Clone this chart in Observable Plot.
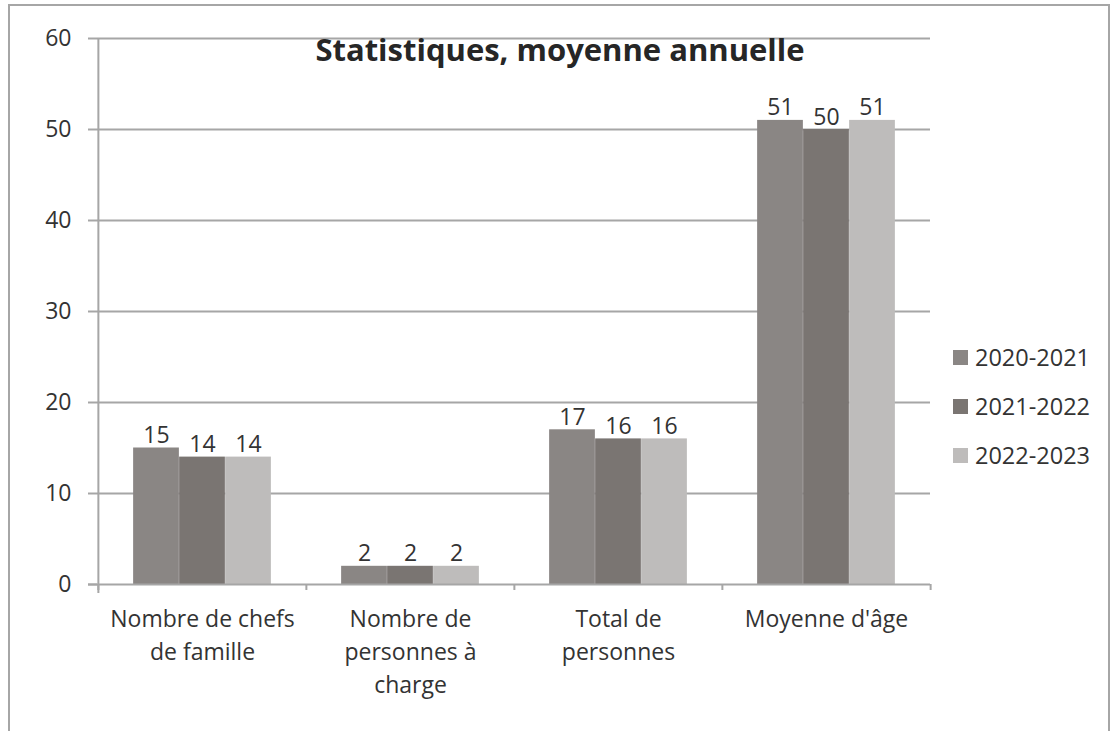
<!DOCTYPE html>
<html>
<head>
<meta charset="utf-8">
<script src="https://cdn.jsdelivr.net/npm/d3@7"></script>
<script src="https://cdn.jsdelivr.net/npm/@observablehq/plot@0.6"></script>
<style>
  html, body { margin: 0; padding: 0; background: #fff; }
  body { width: 1119px; height: 731px; position: relative; overflow: hidden; font-family: "Open Sans", sans-serif; }
  #border { position: absolute; left: 8px; top: 4px; width: 1102px; height: 800px; border: 2px solid #a6a6a6; border-bottom: none; box-sizing: border-box; }
  #chart { position: absolute; left: 0; top: 0; }
  #title { position: absolute; left: 8px; width: 1104px; top: 30px; text-align: center; font-weight: bold; font-size: 31px; line-height: 38px; color: #262626; }
  .leg { position: absolute; left: 953px; font-size: 23.5px; color: #333; height: 30px; line-height: 30px; }
  .leg span.sw { position: absolute; left: 0; top: 8px; width: 15px; height: 15px; }
  .leg span.lb { position: absolute; left: 22px; top: 0; white-space: nowrap; }
</style>
</head>
<body>
<div id="border"></div>
<div id="chart"></div>
<div id="title"></div>
<div id="legend"></div>
<script>
const titleText = "Statistiques, moyenne annuelle";
const categories = ["Nombre de chefs de famille", "Nombre de personnes à charge", "Total de personnes", "Moyenne d'âge"];
const categoryLabels = ["Nombre de chefs\nde famille", "Nombre de\npersonnes à\ncharge", "Total de\npersonnes", "Moyenne d'âge"];
const series = ["2020-2021", "2021-2022", "2022-2023"];
const values2020 = [15, 2, 17, 51];
const values2021 = [14, 2, 16, 50];
const values2022 = [14, 2, 16, 51];
const yTicks = [0, 10, 20, 30, 40, 50, 60];
const colors = ["#8a8684", "#7a7572", "#bebcbb"];

const seriesValues = [values2020, values2021, values2022];
const data = [];
series.forEach((s, si) => categories.forEach((c, ci) => data.push({series: s, category: c, value: seriesValues[si][ci]})));

const bandW = (930 - 97) / categories.length;
const barW = 46;
const inset = (bandW - barW) / 2;
const offsets = [-barW, 0, barW];
const gridColor = "#a6a6a6";
const textColor = "#333333";

const marks = [
  Plot.gridY({ticks: yTicks.filter(d => d > 0), stroke: gridColor, strokeOpacity: 1, strokeWidth: 2})
];
series.forEach((s, si) => {
  const d = data.filter(r => r.series === s);
  marks.push(Plot.barY(d, {x: "category", y: "value", fill: colors[si], dx: offsets[si], insetLeft: inset, insetRight: inset}));
  marks.push(Plot.text(d, {x: "category", y: "value", text: r => String(r.value), dx: offsets[si], dy: -5, lineAnchor: "bottom", fontSize: 23, fill: textColor}));
});
marks.push(
  Plot.ruleY([0], {stroke: gridColor, strokeWidth: 2, insetLeft: -9}),
  Plot.ruleX([categories[0]], {stroke: gridColor, strokeWidth: 2, dx: -bandW / 2, insetBottom: -9}),
  Plot.axisY({ticks: yTicks, tickSize: 9, tickPadding: 17, fontSize: 23, stroke: gridColor, strokeWidth: 2, color: textColor, label: null}),
  Plot.axisX({tickSize: 6, text: null, dx: -bandW / 2, stroke: gridColor, strokeWidth: 2, label: null}),
  Plot.axisX([categories[categories.length - 1]], {tickSize: 6, text: null, dx: bandW / 2, stroke: gridColor, strokeWidth: 2, label: null}),
  Plot.axisX({tickSize: 0, tickPadding: 19, fontSize: 23, lineHeight: 1.43, fill: textColor, label: null,
    tickFormat: c => categoryLabels[categories.indexOf(c)]})
);

const chart = Plot.plot({
  width: 1119,
  height: 731,
  marginLeft: 97,
  marginRight: 189,
  marginTop: 38,
  marginBottom: 147,
  style: {fontFamily: "'Open Sans', sans-serif", background: "transparent", overflow: "visible"},
  x: {domain: categories, padding: 0, axis: null},
  y: {domain: [0, 60], axis: null},
  marks
});
document.getElementById("chart").appendChild(chart);
document.getElementById("title").textContent = titleText;

const legend = document.getElementById("legend");
const legendTops = [342, 391, 440];
series.forEach((s, i) => {
  const row = document.createElement("div");
  row.className = "leg";
  row.style.top = legendTops[i] + "px";
  row.innerHTML = `<span class="sw" style="background:${colors[i]}"></span><span class="lb">${s}</span>`;
  legend.appendChild(row);
});
</script>
</body>
</html>
